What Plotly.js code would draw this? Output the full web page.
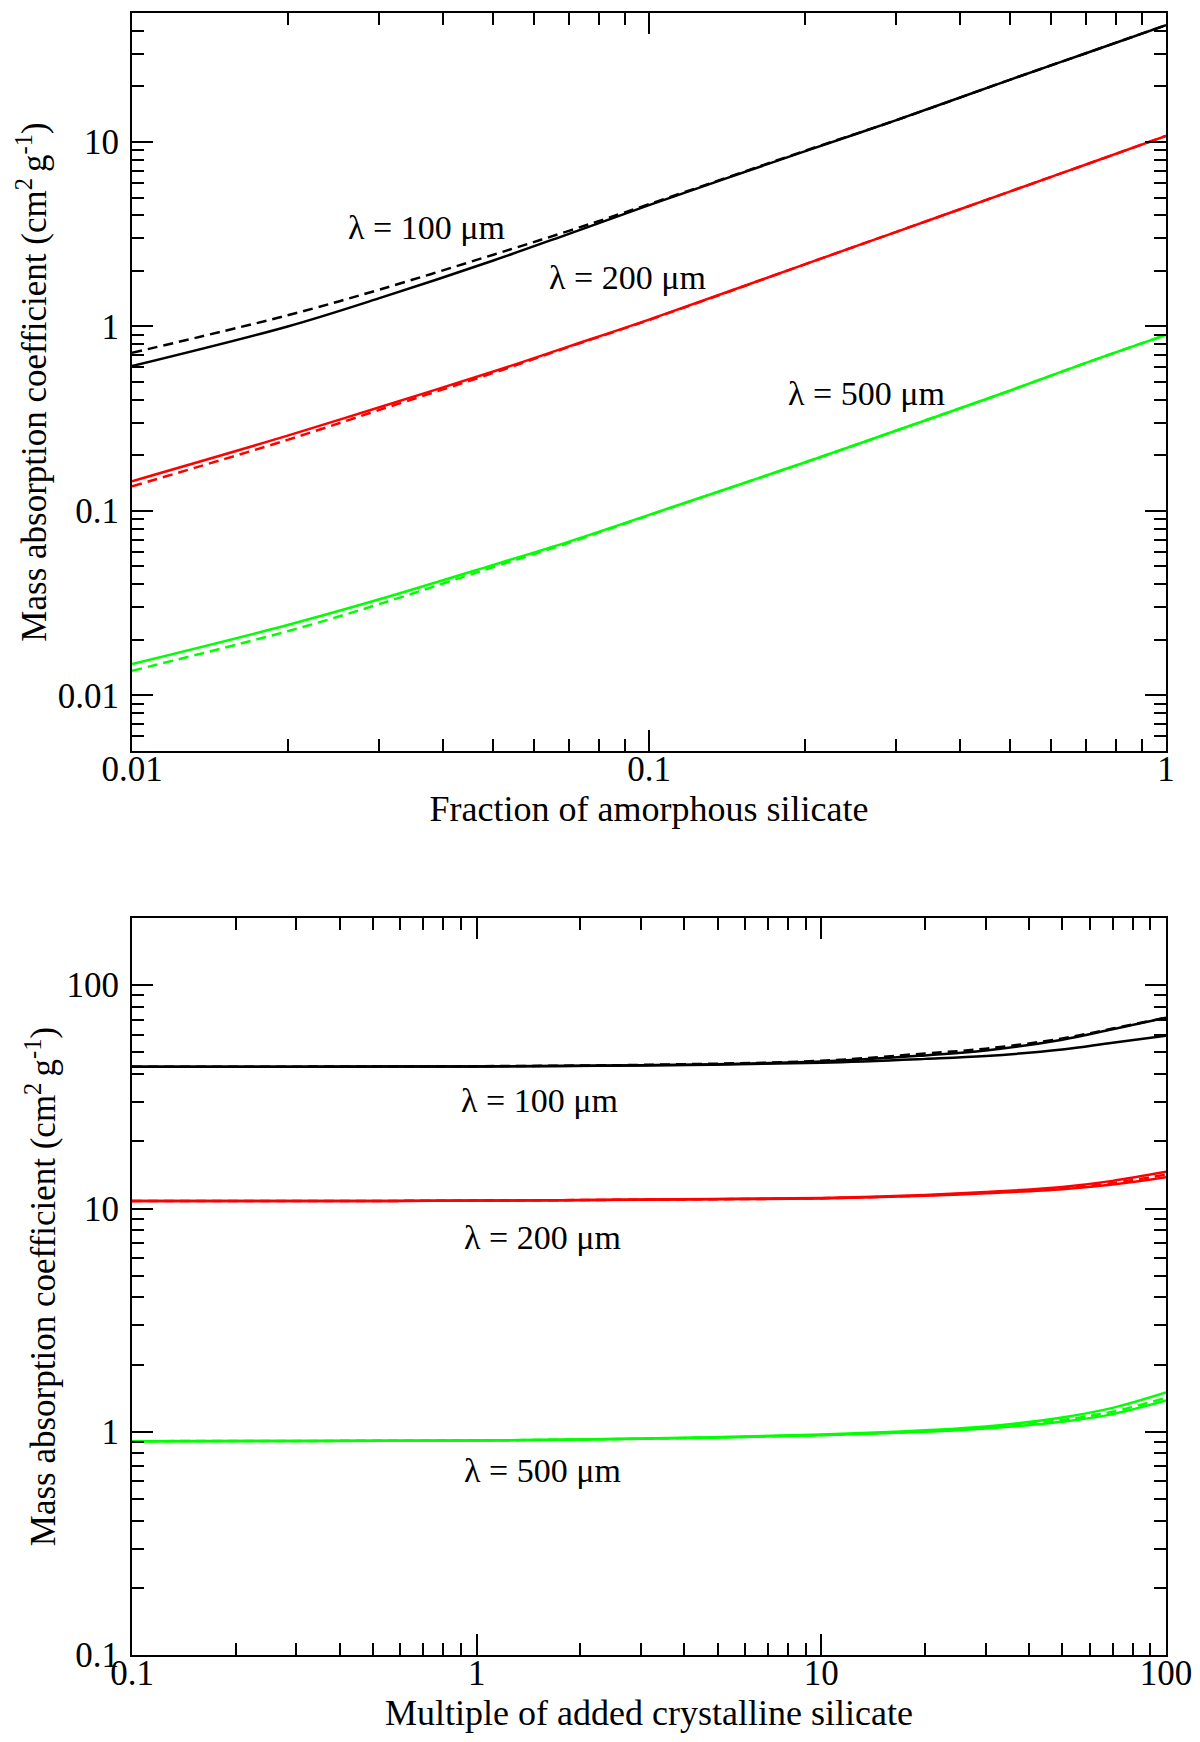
<!DOCTYPE html>
<html>
<head>
<meta charset="utf-8">
<script src="https://cdn.plot.ly/plotly-3.0.1.min.js"></script>
<style>
  html, body { margin: 0; padding: 0; background: #fff; }
  #chart { width: 1200px; height: 1742px; }
</style>
</head>
<body>
<div id="chart"></div>
<script>
(function () {
  'use strict';

  // Top panel: fraction of amorphous silicate
  var fracAmorphous = [0.01, 0.02, 0.03, 0.05, 0.07, 0.1, 0.2, 0.3, 0.5, 0.7, 1.0];
  var k100Solid  = [0.61, 1.0, 1.42, 2.28, 3.18, 4.55, 8.9, 13.1, 21.8, 30.3, 43];
  var k100Dashed = [0.72, 1.15, 1.58, 2.45, 3.3, 4.6, 8.95, 13.1, 21.8, 30.3, 43];
  var k200Solid  = [0.145, 0.256, 0.364, 0.57, 0.78, 1.09, 2.17, 3.25, 5.4, 7.55, 10.8];
  var k200Dashed = [0.136, 0.243, 0.352, 0.56, 0.775, 1.085, 2.17, 3.25, 5.4, 7.55, 10.8];
  var k500Solid  = [0.0148, 0.0241, 0.0331, 0.051, 0.0682, 0.0953, 0.183, 0.272, 0.45, 0.635, 0.9];
  var k500Dashed = [0.0136, 0.0223, 0.0312, 0.0497, 0.0672, 0.0948, 0.183, 0.272, 0.45, 0.635, 0.9];

  // Bottom panel: multiple of added crystalline silicate
  var multCryst = [0.1, 0.3, 1, 3, 10, 20, 30, 50, 70, 100];
  var m100SolidA = [43.2, 43.2, 43.3, 43.7, 45.0, 46.8, 48.2, 51.5, 55.3, 59.4];
  var m100SolidB = [43.2, 43.2, 43.3, 43.8, 45.5, 48.5, 51.0, 57.0, 63.5, 71.6];
  var m100Dashed = [43.2, 43.2, 43.4, 44.0, 45.9, 49.5, 52.0, 57.8, 64.0, 71.6];
  var m200SolidA = [10.8, 10.8, 10.85, 10.95, 11.1, 11.4, 11.7, 12.2, 12.8, 13.8];
  var m200SolidB = [10.8, 10.8, 10.85, 10.97, 11.15, 11.5, 11.85, 12.5, 13.3, 14.6];
  var m200Dashed = [10.8, 10.8, 10.85, 10.96, 11.12, 11.45, 11.78, 12.35, 13.0, 14.2];
  var m500SolidA = [0.908, 0.91, 0.915, 0.93, 0.965, 1.0, 1.035, 1.11, 1.2, 1.38];
  var m500SolidB = [0.908, 0.91, 0.915, 0.932, 0.972, 1.015, 1.055, 1.16, 1.28, 1.5];
  var m500Dashed = [0.908, 0.91, 0.915, 0.931, 0.968, 1.005, 1.045, 1.13, 1.23, 1.42];

  var topXTicks = [0.01, 0.1, 1];
  var topXLabels = ['0.01', '0.1', '1'];
  var topYTicks = [0.01, 0.1, 1, 10];
  var topYLabels = ['0.01', '0.1', '1', '10'];
  var botXTicks = [0.1, 1, 10, 100];
  var botXLabels = ['0.1', '1', '10', '100'];
  var botYTicks = [0.1, 1, 10, 100];
  var botYLabels = ['0.1', '1', '10', '100'];

  var black = '#000000';
  var red = '#ff0000';
  var green = '#00ff00';
  var serif = 'Liberation Serif, Times New Roman, serif';
  var dash = '10px,6px';

  function minorVals(lo, hi) {
    var v = [];
    for (var e = lo; e < hi; e++) {
      for (var d = 2; d <= 9; d++) v.push(+(d * Math.pow(10, e)).toPrecision(3));
    }
    return v;
  }

  function line(x, y, color, dashed, xa, ya) {
    return {
      x: x, y: y, xaxis: xa, yaxis: ya,
      type: 'scatter', mode: 'lines', hoverinfo: 'skip',
      line: { color: color, width: 2.5, dash: dashed ? dash : 'solid', shape: 'spline', smoothing: 1 }
    };
  }

  var traces = [
    line(fracAmorphous, k100Dashed, black, true, 'x', 'y'),
    line(fracAmorphous, k100Solid, black, false, 'x', 'y'),
    line(fracAmorphous, k200Dashed, red, true, 'x', 'y'),
    line(fracAmorphous, k200Solid, red, false, 'x', 'y'),
    line(fracAmorphous, k500Dashed, green, true, 'x', 'y'),
    line(fracAmorphous, k500Solid, green, false, 'x', 'y'),

    line(multCryst, m100SolidA, black, false, 'x2', 'y2'),
    line(multCryst, m100SolidB, black, false, 'x2', 'y2'),
    line(multCryst, m100Dashed, black, true, 'x2', 'y2'),
    line(multCryst, m200SolidA, red, false, 'x2', 'y2'),
    line(multCryst, m200SolidB, red, false, 'x2', 'y2'),
    line(multCryst, m200Dashed, red, true, 'x2', 'y2'),
    line(multCryst, m500SolidA, green, false, 'x2', 'y2'),
    line(multCryst, m500SolidB, green, false, 'x2', 'y2'),
    line(multCryst, m500Dashed, green, true, 'x2', 'y2')
  ];

  function axis(extra) {
    var base = {
      type: 'log',
      showline: true, linecolor: black, linewidth: 2, mirror: 'allticks',
      ticks: 'inside', ticklen: 21, tickwidth: 2, tickcolor: black,
      showgrid: false, zeroline: false, tickmode: 'array',
      tickfont: { family: serif, size: 35, color: black },
      minor: { ticks: 'inside', ticklen: 12, tickwidth: 2, tickcolor: black, showgrid: false, tickmode: 'array', tickvals: minorVals(-3, 3) }
    };
    for (var k in extra) base[k] = extra[k];
    return base;
  }

  var yTitle = 'Mass absorption coefficient (cm<sup>2 </sup>g<sup>-1</sup>)';
  var titleFont = { family: serif, size: 35, color: black };

  function label(text, x, y, xr, yr) {
    return {
      text: text, x: x, y: y, xref: xr, yref: yr, showarrow: false,
      xanchor: 'center', yanchor: 'middle',
      font: { family: serif, size: 34, color: black }
    };
  }

  var layout = {
    width: 1200, height: 1742,
    margin: { l: 0, r: 0, t: 0, b: 0 },
    paper_bgcolor: '#fff', plot_bgcolor: '#fff',
    showlegend: false,
    xaxis: axis({ domain: [0.11, 0.9717], anchor: 'y', range: [-2, 0],
      tickvals: topXTicks, ticktext: topXLabels, ticklabelstandoff: -14,
      title: { text: 'Fraction of amorphous silicate', font: { family: serif, size: 36, color: black }, standoff: 4 } }),
    yaxis: axis({ domain: [0.5689, 0.9925], anchor: 'x', range: [Math.log10(0.005), Math.log10(50)],
      tickvals: topYTicks, ticktext: topYLabels, ticklabelstandoff: 4,
      title: { text: yTitle, font: titleFont, standoff: 0 } }),
    xaxis2: axis({ domain: [0.11, 0.9717], anchor: 'y2', range: [-1, 2],
      tickvals: botXTicks, ticktext: botXLabels, ticklabelstandoff: -14,
      title: { text: 'Multiple of added crystalline silicate', font: { family: serif, size: 36, color: black }, standoff: 4 } }),
    yaxis2: axis({ domain: [0.0499, 0.473], anchor: 'x2', range: [-1, Math.log10(200)],
      tickvals: botYTicks, ticktext: botYLabels, ticklabelstandoff: 4,
      title: { text: yTitle, font: titleFont, standoff: 0 } }),
    annotations: [
      label('\u03bb = 100 \u03bcm', -1.431, 0.539, 'x', 'y'),
      label('\u03bb = 200 \u03bcm', -1.041, 0.268, 'x', 'y'),
      label('\u03bb = 500 \u03bcm', -0.580, -0.361, 'x', 'y'),
      label('\u03bb = 100 \u03bcm', 0.181, 1.486, 'x2', 'y2'),
      label('\u03bb = 200 \u03bcm', 0.192, 0.872, 'x2', 'y2'),
      label('\u03bb = 500 \u03bcm', 0.192, -0.175, 'x2', 'y2')
    ]
  };

  Plotly.newPlot('chart', traces, layout, { displayModeBar: false, staticPlot: true });
})();
</script>
</body>
</html>
